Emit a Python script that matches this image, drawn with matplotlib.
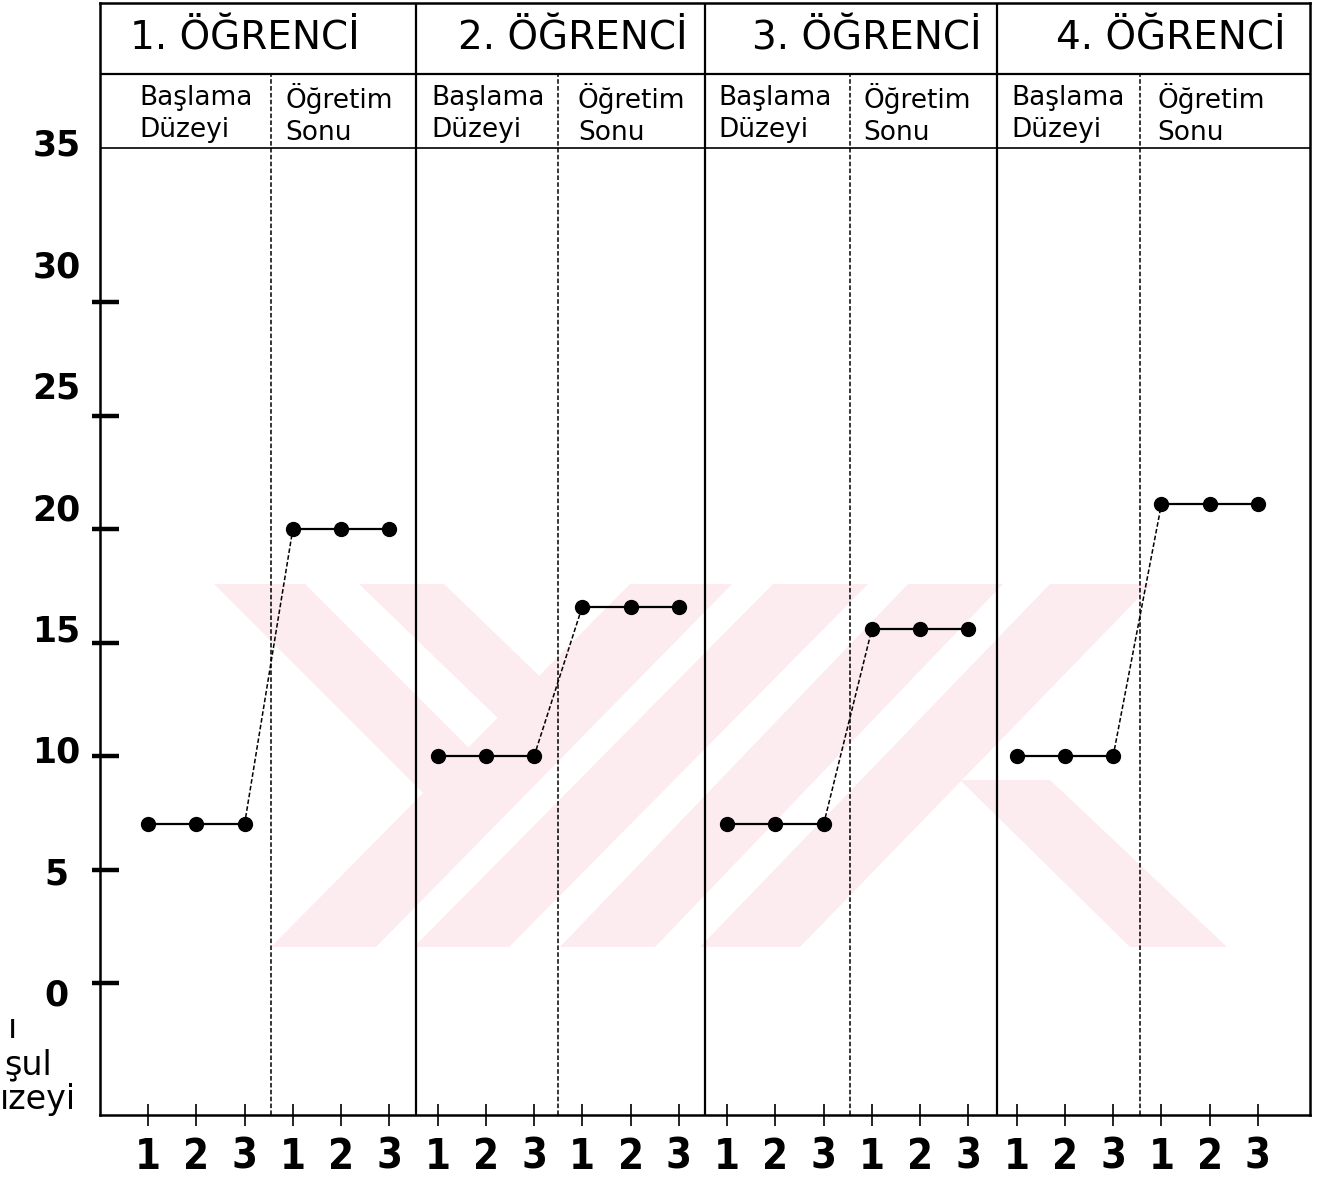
import matplotlib
matplotlib.use('Agg')
import matplotlib.pyplot as plt
from matplotlib.patches import Polygon
from matplotlib.transforms import Affine2D

# öğrenci başlıkları ve evreler
students = ['1. ÖĞRENCİ', '2. ÖĞRENCİ', '3. ÖĞRENCİ', '4. ÖĞRENCİ']
phase_names = ['Başlama\nDüzeyi', 'Öğretim\nSonu']
sessions = ['1', '2', '3']

# başlama düzeyi ve öğretim sonu puanları (oturum 1-3)
baseline = [[7, 7, 7], [10, 10, 10], [7, 7, 7], [10, 10, 10]]
post = [[20, 20, 20], [16.6, 16.6, 16.6], [15.6, 15.6, 15.6], [21.1, 21.1, 21.1]]

y_ticks = [0, 5, 10, 15, 20, 25, 30]
y_labels = [0, 5, 10, 15, 20, 25, 30, 35]

W, H = 1318, 1181

fig = plt.figure(figsize=(W / 100, H / 100), dpi=100)
ax = fig.add_axes([100 / W, (H - 1115) / H, 1210 / W, 1112 / H])
ax.set_xlim(-0.995, 24.08)
ax.set_ylim(-5.81, 43.2)

# arka plandaki soluk filigran (piksel koordinatları)
pix = Affine2D().scale(1, -1).translate(0, H)
watermark = [
    [(214, 584), (305, 584), (521, 800), (430, 800)],
    [(359, 584), (444, 584), (585, 720), (500, 720)],
    [(630, 584), (732, 584), (376, 947), (271, 947)],
    [(773, 584), (868, 584), (509, 947), (414, 947)],
    [(908, 584), (1003, 584), (655, 947), (560, 947)],
    [(1050, 584), (1152, 584), (800, 947), (700, 947)],
    [(960, 780), (1050, 780), (1227, 947), (1130, 947)],
]
for shape in watermark:
    ax.add_patch(Polygon(shape, closed=True, transform=pix, facecolor='#fcebef',
                         edgecolor='none', zorder=0.5, clip_on=False))

n = len(sessions)
step = 2 * n
panel_edges = [5.55, 11.55, 17.6]
phase_lines = [2.55, 8.5, 14.55, 20.55]
top_row = 40.09
sub_row = 36.83

for x in panel_edges:
    ax.axvline(x, color='black', lw=1.6, zorder=2)
for x in phase_lines:
    ax.plot([x, x], [-5.81, top_row], color='black', lw=1.1, ls=(0, (3, 1.5)), zorder=2)
ax.axhline(top_row, color='black', lw=1.6, zorder=2)
ax.axhline(sub_row, color='black', lw=1.2, zorder=2)

for k in range(len(students)):
    xb = [k * step + i for i in range(n)]
    xp = [k * step + n + i for i in range(n)]
    ax.plot(xb, baseline[k], color='black', lw=1.6, marker='o', ms=10, zorder=4)
    ax.plot(xp, post[k], color='black', lw=1.6, marker='o', ms=10, zorder=4)
    ax.plot([xb[-1], xp[0]], [baseline[k][-1], post[k][0]], color='black',
            lw=1.1, ls=(0, (3, 1.5)), zorder=3)

# başlıklar
title_x = [2.0, 8.8, 14.9, 21.2]
base_x = [-0.17, 5.88, 11.81, 17.9]
post_x = [2.84, 8.91, 14.82, 20.91]
for k, name in enumerate(students):
    ax.text(title_x[k], 41.65, name, ha='center', va='center', fontsize=28,
            family='DejaVu Sans')
    ax.text(base_x[k], 38.3, phase_names[0], ha='left', va='center', fontsize=19,
            family='DejaVu Sans', linespacing=1.3)
    ax.text(post_x[k], 38.3, phase_names[1], ha='left', va='center', fontsize=19,
            family='DejaVu Sans', linespacing=1.3)

# eksenler
for sp in ax.spines.values():
    sp.set_linewidth(1.8)

ax.set_xticks(range(len(students) * step))
ax.set_xticklabels(sessions * (2 * len(students)), fontsize=30, fontweight='heavy',
                   family='DejaVu Sans', fontstretch='condensed')
ax.tick_params(axis='x', direction='inout', length=16, width=1.2, pad=7)

# y çentikleri: çoğu eksenin sağında
ax.yaxis.remove_overlapping_locs = False
ax.set_yticks(y_ticks)
ax.set_yticks(y_ticks, minor=True)
ax.set_yticklabels([])
ax.tick_params(axis='y', which='major', direction='in', length=14, width=3.2)
ax.tick_params(axis='y', which='minor', direction='out', length=6, width=3.2)

# y etiketleri (taranmış grafikte biraz yukarı kaymış)
ytr = ax.get_yaxis_transform()
for v in y_labels:
    ax.text(-0.036, v * 1.07 - 0.55, str(v), transform=ytr, ha='center', va='center',
            fontsize=25, fontweight='heavy', family='DejaVu Sans')

# soldaki kesik eksen yazısı
fig.text(8 / W, 1 - 1028 / H, 'ı', fontsize=24, va='center', family='DejaVu Sans')
fig.text(4 / W, 1 - 1065 / H, 'şul', fontsize=24, va='center', family='DejaVu Sans')
fig.text(0 / W, 1 - 1100 / H, 'ızeyi', fontsize=24, va='center', family='DejaVu Sans')

fig.savefig('out.png', dpi=100)
